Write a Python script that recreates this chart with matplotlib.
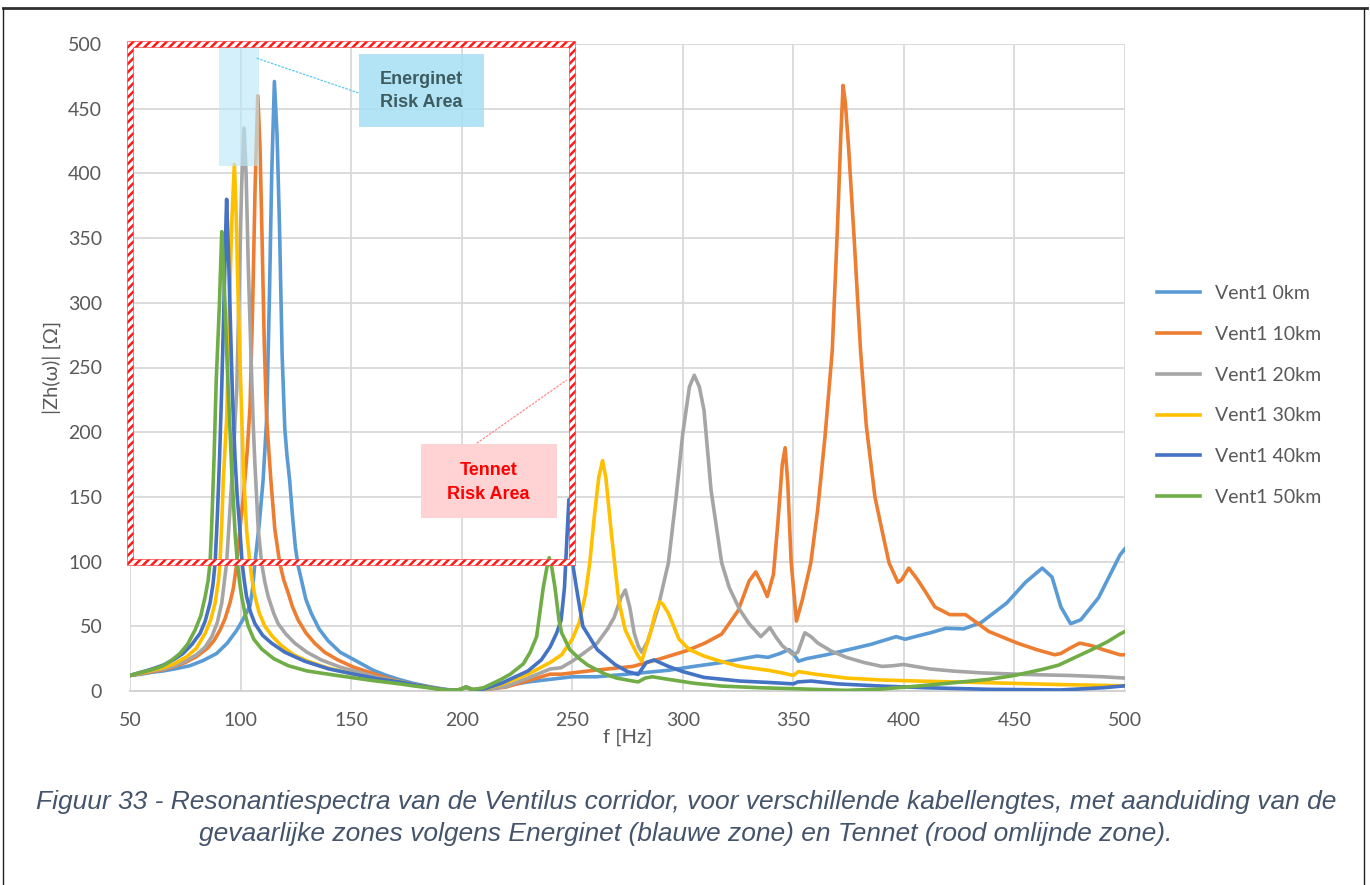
import numpy as np
import matplotlib
matplotlib.use("Agg")
import matplotlib.pyplot as plt
from matplotlib.patches import Rectangle, PathPatch
from matplotlib.path import Path
from matplotlib.lines import Line2D

# =============================================================================
# Data
# =============================================================================
labels = ["Vent1 0km", "Vent1 10km", "Vent1 20km", "Vent1 30km", "Vent1 40km", "Vent1 50km"]
colors = ["#5B9BD5", "#ED7D31", "#A5A5A5", "#FFC000", "#4472C4", "#70AD47"]

f_0km = [50, 55, 60, 65, 70, 77, 83, 89.2, 94, 98.3, 101, 104.3, 105.5, 106.5, 108.5, 110.2, 111.8,
         113, 114.1, 115.3, 116.5, 117.6, 118.8, 120, 121, 122.2, 123.5, 124.8, 126, 127.5, 129.5,
         132, 135.5, 139.5, 145, 151.5, 160, 166, 172.5, 178, 185, 190, 195, 199, 202, 205, 210,
         220, 230, 240, 250, 261, 275, 293.5, 305, 317.6, 327, 333.7, 338.6, 344, 348, 350, 352.3,
         356, 365, 375, 385, 396.5, 400.6, 405, 412, 419, 427, 435, 446.5, 455, 462.6, 467, 471,
         475.4, 480, 488, 497.7, 500]
z_0km = [12, 13, 14.5, 15.5, 17, 19.5, 23.5, 29, 37, 47, 55, 66, 80, 99, 130, 163, 210,
         300, 400, 471, 430, 360, 260, 203, 182, 163, 135, 111, 97, 86, 71,
         60, 48, 39, 30, 24, 16, 12, 8.5, 6, 3.5, 2, 0.8, 1, 3, 1, 1.5,
         4, 7, 9, 11, 11, 13, 16, 19, 22, 25, 27, 26, 29, 32, 29, 23,
         25, 28, 32, 36, 42, 40, 42, 45, 48.5, 48, 53, 68, 84, 95, 88, 65,
         52, 55, 72, 105, 110]

f_10km = [50, 55, 60, 65, 70, 75, 80, 85, 88, 90.7, 93, 95.2, 96.8, 98.3, 100, 101.3, 103, 104.3,
          105.5, 106.6, 107.8, 108.8, 109.6, 110.7, 111.8, 113.7, 115.5, 117.7, 119.5, 121.5, 123.5,
          126, 129.5, 133.5, 138, 144, 151, 159, 166, 172.5, 178, 185, 190, 195, 199, 202, 205,
          210, 220, 230, 240, 245, 250, 260, 277.4, 290, 301.5, 310, 317.6, 325, 330, 333, 336,
          338.2, 341, 343, 345, 346.3, 347.5, 349, 351.4, 354, 357.9, 361, 364.3, 367.6, 370,
          371.5, 372.5, 373.5, 375, 377.5, 380.4, 383, 386.9, 390, 393.3, 397.3, 399, 402.2, 406.2,
          410, 414, 420.7, 427.9, 432, 438.4, 451.3, 460, 468.2, 471, 475, 479.5, 485, 490, 497.7, 500]
z_10km = [12, 13.5, 15, 16.5, 19, 22, 26.5, 33, 39, 47, 56, 68, 80, 99, 130, 150, 185, 220,
          300, 391, 460, 420, 360, 270, 210, 163, 125, 99, 86, 76, 65,
          55, 45, 37, 30, 24, 18.5, 14, 10, 7, 5, 3, 1.5, 0.5, 1, 3, 1,
          1, 3, 8, 13, 13, 14, 16, 19, 25, 31, 37, 44, 62, 85, 92, 82,
          73, 90, 130, 175, 188, 160, 100, 54, 70, 99, 140, 196, 263, 360,
          430, 468, 455, 420, 350, 263, 205, 150, 125, 99, 84, 86, 95, 86,
          76, 65, 59, 59, 54, 46, 37, 32, 28, 29, 33, 37, 35, 32, 28, 28]

f_20km = [50, 55, 60, 65, 70, 75, 80, 84, 87, 89.5, 91.5, 93.7, 95.2, 96.8, 98.3, 99.5, 100.5,
          101.6, 102.5, 103.5, 104.7, 105.8, 106.5, 108, 109.5, 111, 112.5, 115, 117, 120.5, 124.5,
          130, 136.5, 145, 154.5, 163, 172.5, 178, 185, 190, 195, 199, 202, 205, 210,
          220, 230, 240, 245, 250, 255, 261.3, 266, 269, 272, 274, 276, 278, 279.8, 281.4, 284,
          288.6, 293.5, 297, 300, 303, 305.2, 307.5, 309.6, 312.8, 317.6, 321, 325.7, 330, 335.3,
          339.4, 342, 345, 350, 352, 355.2, 358, 361.1, 367, 374, 382, 390, 395, 399.8, 405, 412,
          422.3, 435, 454.5, 475, 490, 500]
z_20km = [12, 14, 15.5, 17, 19.5, 23, 28, 34, 42, 53, 68, 99, 140, 185, 234, 320, 391,
          435, 400, 328, 260, 203, 175, 125, 99, 84, 73, 60, 52, 44, 37,
          30, 24, 18.5, 14, 10, 7, 5, 3, 1.5, 0.5, 1, 3, 1, 1,
          3.5, 10, 17, 18, 23, 29, 37, 48, 57, 72, 78, 65, 45, 35, 30, 38,
          63, 99, 150, 199, 235, 244, 235, 217, 155, 99, 80, 63, 52, 42,
          49, 42, 35, 28, 30, 45, 42, 37, 31, 26, 22, 19, 19.5, 20.5, 19, 17,
          15.4, 14, 12.8, 12, 11, 10]

f_30km = [50, 55, 60, 65, 70, 75.6, 80, 84, 86.5, 88.5, 90, 90.7, 91.5, 92.2, 93.7, 95, 96, 97.2,
          98, 99, 100.2, 101.3, 102.7, 104.2, 105.3, 106.5, 108.5, 111, 114.5, 118.5, 124, 130.5,
          139, 148.5, 160, 172.5, 178, 185, 190, 195, 199, 202, 205, 210, 218,
          230, 240, 245.2, 250, 253.2, 256, 258, 260, 262, 263.7, 265.2, 267.7, 271, 274, 277.4,
          279.5, 281.4, 283, 285.4, 287.5, 289.5, 291, 293.5, 298.3, 303, 309.6, 317, 325.7, 338.6,
          345, 350, 352.3, 360, 374, 390, 406, 438.4, 470, 500]
z_30km = [12, 14, 16, 18, 21, 26.5, 33, 44.6, 55, 68, 85, 99, 130, 163, 210, 300, 361, 407,
          370, 297, 230, 171, 125, 99, 85, 73, 60, 50, 42, 35, 28, 23,
          18, 14, 10, 7, 5, 3, 1.5, 0.5, 1, 3, 1, 1.5, 5,
          13, 22, 28, 40, 53, 75, 100, 135, 165, 178, 165, 122, 70, 47, 35,
          28, 23, 32, 45, 60, 69, 67, 60, 40, 32, 27, 23, 19, 16,
          14, 12, 15, 13, 10, 8.5, 7.7, 6.4, 5, 4]

f_40km = [50, 55, 60, 65, 70, 74, 78, 81.7, 84, 86.2, 87.5, 88.5, 89.5, 90.5, 91.5, 92.5, 93.2,
          93.7, 94.5, 95.2, 96.3, 97.5, 98.5, 99.7, 100.7, 101.7, 102.7, 104.5, 106.5, 110, 114, 120,
          129, 140, 151.5, 162, 172.5, 178, 185, 190, 195, 199, 202, 205, 210, 218,
          230, 236, 240, 243, 245, 246.5, 247.8, 248.5, 249.5, 250.5, 251.6, 254.8, 261.3, 269.3,
          275, 279.8, 283.5, 287, 293.5, 300, 309.6, 325.7, 340, 350, 352, 358, 370, 390, 410,
          438.4, 470.6, 490, 500]
z_40km = [12, 14.5, 17, 20, 24.5, 29, 36, 44.6, 54, 68, 82, 99, 135, 180, 235, 300, 350,
          380, 340, 297, 230, 180, 150, 125, 99, 85, 73, 61, 52, 43, 37, 30,
          23, 17, 13, 9.5, 6.8, 5, 3, 1.5, 0.5, 1, 3, 1, 1.5, 6,
          15.5, 24, 34, 45, 55, 80, 125, 148, 125, 95, 83, 50, 32, 20.5,
          15, 12.8, 22, 24, 19, 15, 10.5, 7.7, 6.5, 5.5, 7, 7.7, 5.5, 3.8, 2.5,
          1.3, 0.8, 2.5, 4]

f_50km = [50, 55, 60, 65, 69, 72.6, 76, 79.4, 82, 84, 85.3, 86.2, 87, 88, 89, 90.4, 91.5, 92.2,
          93, 94, 95.2, 96, 96.8, 97.6, 98.6, 99.5, 100.5, 102, 103.5, 106, 109.5, 115, 121.5, 130,
          144, 160, 172.5, 178, 185, 190, 195, 199, 202, 205, 210, 217.3,
          222, 227.9, 231, 233.9, 236.9, 238.5, 239.6, 240.8, 242.2, 244, 245.2, 248.9, 253.2, 257,
          261, 265, 270, 277.4, 279.8, 283, 286.2, 293.5, 305, 317.6, 335, 350, 374, 390, 406, 420,
          438.4, 450, 462.6, 470, 478.7, 485, 492, 497.7, 500]
z_50km = [12, 14.5, 16.5, 19.5, 24, 29, 36, 47, 58, 73, 85, 99, 130, 180, 240, 297, 355, 330,
          297, 250, 203, 170, 145, 120, 99, 85, 73, 60, 50, 40, 32.5, 25, 19.6, 15.5,
          11.9, 8, 5.4, 4, 2.5, 1.2, 0.5, 1, 3, 1, 2.6, 8.5,
          13, 21, 30, 42, 80, 95, 103, 95, 80, 55, 45, 32, 25, 20,
          16.5, 13, 10, 7.7, 7, 10, 11, 9, 6, 3.8, 2.5, 1.8, 0.5, 1.5, 3.8, 6,
          9, 12, 16.7, 20, 27, 32, 38, 44, 46]

freqs = [f_0km, f_10km, f_20km, f_30km, f_40km, f_50km]
values = [z_0km, z_10km, z_20km, z_30km, z_40km, z_50km]

x_ticks = [50, 100, 150, 200, 250, 300, 350, 400, 450, 500]
y_ticks = [0, 50, 100, 150, 200, 250, 300, 350, 400, 450, 500]

caption = ("Figuur 33 - Resonantiespectra van de Ventilus corridor, voor verschillende kabellengtes, "
           "met aanduiding van de\ngevaarlijke zones volgens Energinet (blauwe zone) en Tennet "
           "(rood omlijnde zone).")

# =============================================================================
# Figure
# =============================================================================
plt.rcParams['font.family'] = ['Lato', 'DejaVu Sans']
plt.rcParams['hatch.linewidth'] = 1.8

fig = plt.figure(figsize=(13.7, 8.85), dpi=100)
ax = fig.add_axes([130 / 1370, 1 - 691 / 885, 995 / 1370, 647 / 885])

for f, z, lab, col in zip(freqs, values, labels, colors):
    ax.plot(f, z, color=col, lw=2.6, label=lab, solid_joinstyle='round', zorder=3)

ax.set_xlim(50, 500)
ax.set_ylim(0, 500)
ax.set_xticks(x_ticks)
ax.set_yticks(y_ticks)
ax.grid(True, color='#D9D9D9', lw=1.3)
ax.set_axisbelow(True)
for s in ['top', 'right', 'left']:
    ax.spines[s].set_visible(False)
ax.spines['bottom'].set_color('#D0D0D0')
ax.spines['bottom'].set_linewidth(1.3)
ax.tick_params(length=0, labelsize=14, labelcolor='#595959')
ax.tick_params(axis='x', pad=15)
ax.tick_params(axis='y', pad=20)
ax.set_xlabel('f [Hz]', fontsize=14.5, color='#595959', labelpad=0)
ax.set_ylabel('|Zh(ω)| [Ω]', fontsize=14.5, color='#595959', labelpad=5)

# Energinet risk area (light blue) + label box
ax.add_patch(Rectangle((90.2, 406), 18.3, 94, facecolor='#BDE8F8', alpha=0.65, edgecolor='none', zorder=4))
ax.plot([107.3, 153.7], [489, 462], color='#5BC8EE', lw=0.9, ls=(0, (2, 1)), zorder=4)
ax.add_patch(Rectangle((153.7, 435.6), 56.4, 56.4, facecolor='#A6E0F5', alpha=0.85, edgecolor='none', zorder=4))
ax.text(181.9, 463.8, 'Energinet\nRisk Area', ha='center', va='center', fontsize=13,
        fontweight='bold', color='#3D5C60', family='Liberation Sans', linespacing=1.42, zorder=5)

# Tennet risk area (hatched red border) + label box
x0, x1, y0, y1 = 50, 250, 100, 500
dx, dy = 1.4, 2.3
outer = [(x0 - dx, y0 - dy), (x1 + dx, y0 - dy), (x1 + dx, y1 + dy), (x0 - dx, y1 + dy), (x0 - dx, y0 - dy)]
inner = [(x0 + dx, y0 + dy), (x0 + dx, y1 - dy), (x1 - dx, y1 - dy), (x1 - dx, y0 + dy), (x0 + dx, y0 + dy)]
verts = outer + inner
codes = ([Path.MOVETO] + [Path.LINETO] * 3 + [Path.CLOSEPOLY]) * 2
border = PathPatch(Path(verts, codes), facecolor='white', edgecolor='#FF1A1A', hatch='////',
                   lw=0.4, zorder=6, clip_on=False)
ax.add_patch(border)
ax.plot([206.8, 247.5], [191.4, 240.3], color='#FF8C8C', lw=0.9, ls=(0, (2, 1)), zorder=4)
ax.add_patch(Rectangle((181.6, 133.5), 61.4, 57.1, facecolor='#FFD3D3', edgecolor='none', zorder=4))
ax.text(212.2, 161.1, 'Tennet\nRisk Area', ha='center', va='center', fontsize=13,
        fontweight='bold', color='#FF0000', family='Liberation Sans', linespacing=1.5, zorder=5)

# Legend
fig.legend(loc='center left', bbox_to_anchor=(1157 / 1370, 1 - 395.5 / 885), frameon=False,
           fontsize=14, labelcolor='#595959', handlelength=2.2, handletextpad=0.8,
           labelspacing=1.22, borderpad=0, borderaxespad=0)

# Caption
fig.text(0.5007, 1 - 818 / 885, caption, ha='center', va='center', fontsize=19, style='italic',
         color='#44546A', family='Liberation Sans', linespacing=1.4)

# Page frame
fig.add_artist(Line2D([0.002, 0.998], [1 - 8 / 885] * 2, color='#303030', lw=2))
fig.add_artist(Line2D([3 / 1370] * 2, [0, 1 - 8 / 885], color='#202020', lw=1))
fig.add_artist(Line2D([1364 / 1370] * 2, [0, 1 - 8 / 885], color='#202020', lw=1))

fig.savefig('out.png', dpi=100)
